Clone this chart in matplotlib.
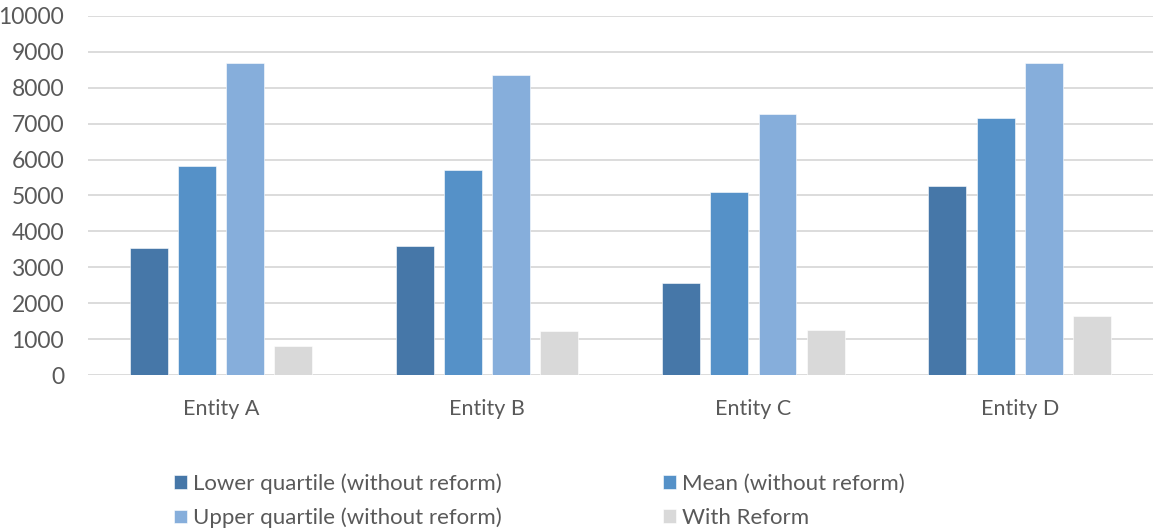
import matplotlib
matplotlib.use("Agg")
import matplotlib.pyplot as plt
import numpy as np

categories = ["Entity A", "Entity B", "Entity C", "Entity D"]
lower_quartile = [3530, 3600, 2560, 5270]
mean_values = [5830, 5700, 5110, 7160]
upper_quartile = [8680, 8340, 7260, 8680]
with_reform = [800, 1220, 1250, 1640]

series_names = ["Lower quartile (without reform)", "Mean (without reform)",
                "Upper quartile (without reform)", "With Reform"]
series_colors = ["#4677A8", "#5591C8", "#86AEDB", "#D9D9D9"]
y_ticks = list(range(0, 10001, 1000))

plt.rcParams["font.family"] = ["Lato", "DejaVu Sans"]

fig = plt.figure(figsize=(11.54, 5.29), dpi=100)
ax = fig.add_axes([0.076, 0.291, 0.923, 0.679])

x = np.arange(len(categories))
width = 0.1425
step = 0.181
all_series = [lower_quartile, mean_values, upper_quartile, with_reform]
handles = []
for i, (vals, name, col) in enumerate(zip(all_series, series_names, series_colors)):
    offset = (i - 1.5) * step
    b = ax.bar(x + offset, vals, width, color=col, label=name, zorder=3,
               edgecolor="white", linewidth=0.4)
    handles.append(b)

ax.set_xlim(-0.5, len(categories) - 0.5)
ax.set_ylim(0, 10000)
ax.set_yticks(y_ticks)
ax.set_yticklabels([str(v) for v in y_ticks])
ax.set_xticks(x)
ax.set_xticklabels(categories)
ax.yaxis.grid(True, color="#D9D9D9", linewidth=1.3, zorder=0)
ax.set_axisbelow(True)
for s in ax.spines.values():
    s.set_visible(False)
ax.tick_params(axis="both", length=0, colors="#595959")
ax.tick_params(axis="y", pad=17, labelsize=16.5)
ax.tick_params(axis="x", pad=17.5, labelsize=15.5)

order = [0, 2, 1, 3]
leg = fig.legend([handles[i] for i in order], [series_names[i] for i in order],
                 ncol=2, loc="upper left", bbox_to_anchor=(0.151, 0.106),
                 frameon=False, fontsize=16, handlelength=0.58, handleheight=0.58,
                 handletextpad=0.27, columnspacing=7.25, labelspacing=0.64,
                 borderaxespad=0, borderpad=0)
for t in leg.get_texts():
    t.set_color("#595959")

fig.savefig("out.png", dpi=100)
